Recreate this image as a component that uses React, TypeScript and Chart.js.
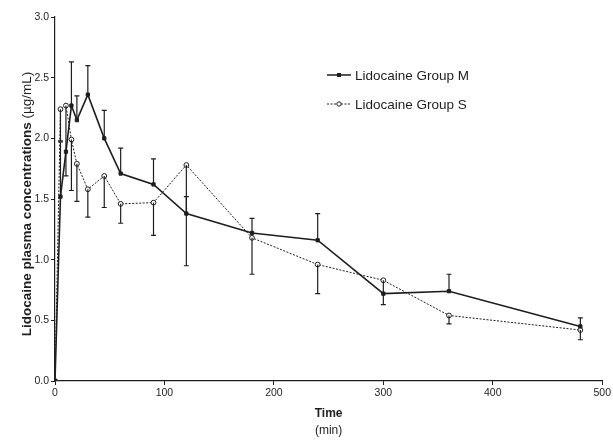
import React, { useEffect, useRef } from "react";
import { Chart, registerables } from "chart.js";

Chart.register(...registerables);

const times = [0, 5, 10, 15, 20, 30, 45, 60, 90, 120, 180, 240, 300, 360, 480];
const groupM = [0, 1.52, 1.89, 2.27, 2.15, 2.36, 2.0, 1.71, 1.62, 1.38, 1.22, 1.16, 0.72, 0.74, 0.45];
const groupS = [0, 2.24, 2.27, 1.99, 1.79, 1.58, 1.69, 1.46, 1.47, 1.78, 1.18, 0.96, 0.83, 0.54, 0.42];
const errM = [0, 0.45, 0, 0.36, 0.2, 0.24, 0.23, 0.21, 0.21, 0.14, 0.12, 0.22, 0, 0.14, 0.07];
const errS = [0, 0.26, 0.58, 0.42, 0.31, 0.23, 0.26, 0.16, 0.27, 0.83, 0.3, 0.24, 0.2, 0.07, 0.08];
const seriesNames = ["Lidocaine Group M", "Lidocaine Group S"];
const yTicks = [0, 0.5, 1.0, 1.5, 2.0, 2.5, 3.0];
const xTicks = [0, 100, 200, 300, 400, 500];

const INK = "#1e1e1e";
const FONT = "'Liberation Sans', Arial, Helvetica, sans-serif";

const errorBarPlugin = {
  id: "errorBars",
  afterDatasetsDraw(chart: any) {
    const ctx = chart.ctx;
    const xs = chart.scales.x;
    const ys = chart.scales.y;
    ctx.save();
    ctx.strokeStyle = INK;
    ctx.lineWidth = 1.2;
    ctx.setLineDash([]);
    const cap = 2.5;
    times.forEach((t, i) => {
      const px = xs.getPixelForValue(t);
      if (errM[i] > 0) {
        const y0 = ys.getPixelForValue(groupM[i]);
        const y1 = ys.getPixelForValue(groupM[i] + errM[i]);
        ctx.beginPath();
        ctx.moveTo(px, y0);
        ctx.lineTo(px, y1);
        ctx.moveTo(px - cap, y1);
        ctx.lineTo(px + cap, y1);
        ctx.stroke();
      }
      if (errS[i] > 0) {
        const y0 = ys.getPixelForValue(groupS[i]);
        const y1 = ys.getPixelForValue(groupS[i] - errS[i]);
        ctx.beginPath();
        ctx.moveTo(px, y0);
        ctx.lineTo(px, y1);
        ctx.moveTo(px - cap, y1);
        ctx.lineTo(px + cap, y1);
        ctx.stroke();
      }
    });
    ctx.restore();
  },
};

const titlesPlugin = {
  id: "customTitles",
  afterDraw(chart: any) {
    const ctx = chart.ctx;
    const area = chart.chartArea;
    ctx.save();
    ctx.fillStyle = INK;
    // Y title
    const boldY = "Lidocaine plasma concentrations";
    const normY = " (\u00B5g/mL)";
    ctx.font = `bold 13.5px ${FONT}`;
    const wb = ctx.measureText(boldY).width;
    ctx.font = `13.5px ${FONT}`;
    const wn = ctx.measureText(normY).width;
    const total = wb + wn;
    const cy = (area.top + area.bottom) / 2 + 5;
    ctx.translate(27, cy);
    ctx.rotate(-Math.PI / 2);
    ctx.textBaseline = "middle";
    ctx.textAlign = "left";
    ctx.font = `bold 13.5px ${FONT}`;
    ctx.fillText(boldY, -total / 2, 0);
    ctx.font = `13.5px ${FONT}`;
    ctx.fillText(normY, -total / 2 + wb, 0);
    ctx.restore();

    // X title
    ctx.save();
    ctx.fillStyle = INK;
    const cx = (area.left + area.right) / 2;
    ctx.textAlign = "center";
    ctx.textBaseline = "middle";
    ctx.font = `bold 12px ${FONT}`;
    ctx.fillText("Time", cx, area.bottom + 33);
    ctx.font = `12px ${FONT}`;
    ctx.fillText("(min)", cx, area.bottom + 50);
    ctx.restore();

    // Legend
    ctx.save();
    const lx = area.left + 272;
    const rows = [area.top + 58, area.top + 87];
    rows.forEach((ry, i) => {
      ctx.strokeStyle = INK;
      ctx.lineWidth = i === 0 ? 1.5 : 1;
      ctx.setLineDash(i === 0 ? [] : [2, 1.5]);
      ctx.beginPath();
      ctx.moveTo(lx, ry);
      ctx.lineTo(lx + 24, ry);
      ctx.stroke();
      ctx.setLineDash([]);
      if (i === 0) {
        ctx.fillStyle = INK;
        ctx.fillRect(lx + 10, ry - 2, 4, 4);
      } else {
        ctx.fillStyle = "#fff";
        ctx.lineWidth = 1;
        ctx.beginPath();
        ctx.arc(lx + 12, ry, 2.2, 0, Math.PI * 2);
        ctx.fill();
        ctx.stroke();
      }
      ctx.fillStyle = INK;
      ctx.font = `13.5px ${FONT}`;
      ctx.textAlign = "left";
      ctx.textBaseline = "middle";
      ctx.fillText(seriesNames[i], lx + 28, ry + 1);
    });
    ctx.restore();
  },
};

export default function App() {
  const ref = useRef<HTMLCanvasElement | null>(null);
  useEffect(() => {
    document.body.style.margin = "0";
    const canvas = ref.current;
    if (!canvas) return;
    const chart = new Chart(canvas, {
      type: "line",
      data: {
        datasets: [
          {
            label: seriesNames[0],
            data: times.map((t, i) => ({ x: t, y: groupM[i] })),
            borderColor: INK,
            backgroundColor: INK,
            borderWidth: 1.6,
            pointStyle: "rect",
            pointRadius: 2.3,
            pointBorderWidth: 1,
            pointBackgroundColor: INK,
            pointBorderColor: INK,
            tension: 0,
          },
          {
            label: seriesNames[1],
            data: times.map((t, i) => ({ x: t, y: groupS[i] })),
            borderColor: INK,
            backgroundColor: "#fff",
            borderWidth: 1,
            borderDash: [2, 1.5],
            pointStyle: "circle",
            pointRadius: 2.4,
            pointBorderWidth: 1,
            pointBackgroundColor: "#fff",
            pointBorderColor: INK,
            tension: 0,
          },
        ],
      },
      options: {
        responsive: false,
        animation: false,
        layout: { padding: { left: 0, right: 10, top: 17, bottom: 0 } },
        plugins: {
          legend: { display: false },
          tooltip: { enabled: false },
          title: { display: false },
        },
        scales: {
          x: {
            type: "linear",
            min: 0,
            max: 500,
            afterBuildTicks: (s: any) => {
              s.ticks = xTicks.map((v) => ({ value: v }));
            },
            afterFit: (s: any) => {
              s.height = 59;
            },
            ticks: {
              color: INK,
              font: { family: FONT, size: 10.5 },
              padding: 2,
              maxRotation: 0,
              callback: (v: any) => String(v),
            },
            grid: { display: true, drawOnChartArea: false, drawTicks: true, tickLength: 4, color: INK, lineWidth: 1 },
            border: { display: true, color: INK, width: 1.2 },
          },
          y: {
            type: "linear",
            min: 0,
            max: 3,
            afterBuildTicks: (s: any) => {
              s.ticks = yTicks.map((v) => ({ value: v }));
            },
            afterFit: (s: any) => {
              s.width = 55;
            },
            ticks: {
              color: INK,
              font: { family: FONT, size: 10.5 },
              padding: 2,
              callback: (v: any) => Number(v).toFixed(1),
            },
            grid: { display: true, drawOnChartArea: false, drawTicks: true, tickLength: 4, color: INK, lineWidth: 1 },
            border: { display: true, color: INK, width: 1.2 },
          },
        },
      },
      plugins: [errorBarPlugin, titlesPlugin],
    } as any);
    return () => chart.destroy();
  }, []);
  return (
    <div style={{ width: 613, height: 440, background: "#fff" }}>
      <canvas ref={ref} width={613} height={440} style={{ display: "block" }} />
    </div>
  );
}
